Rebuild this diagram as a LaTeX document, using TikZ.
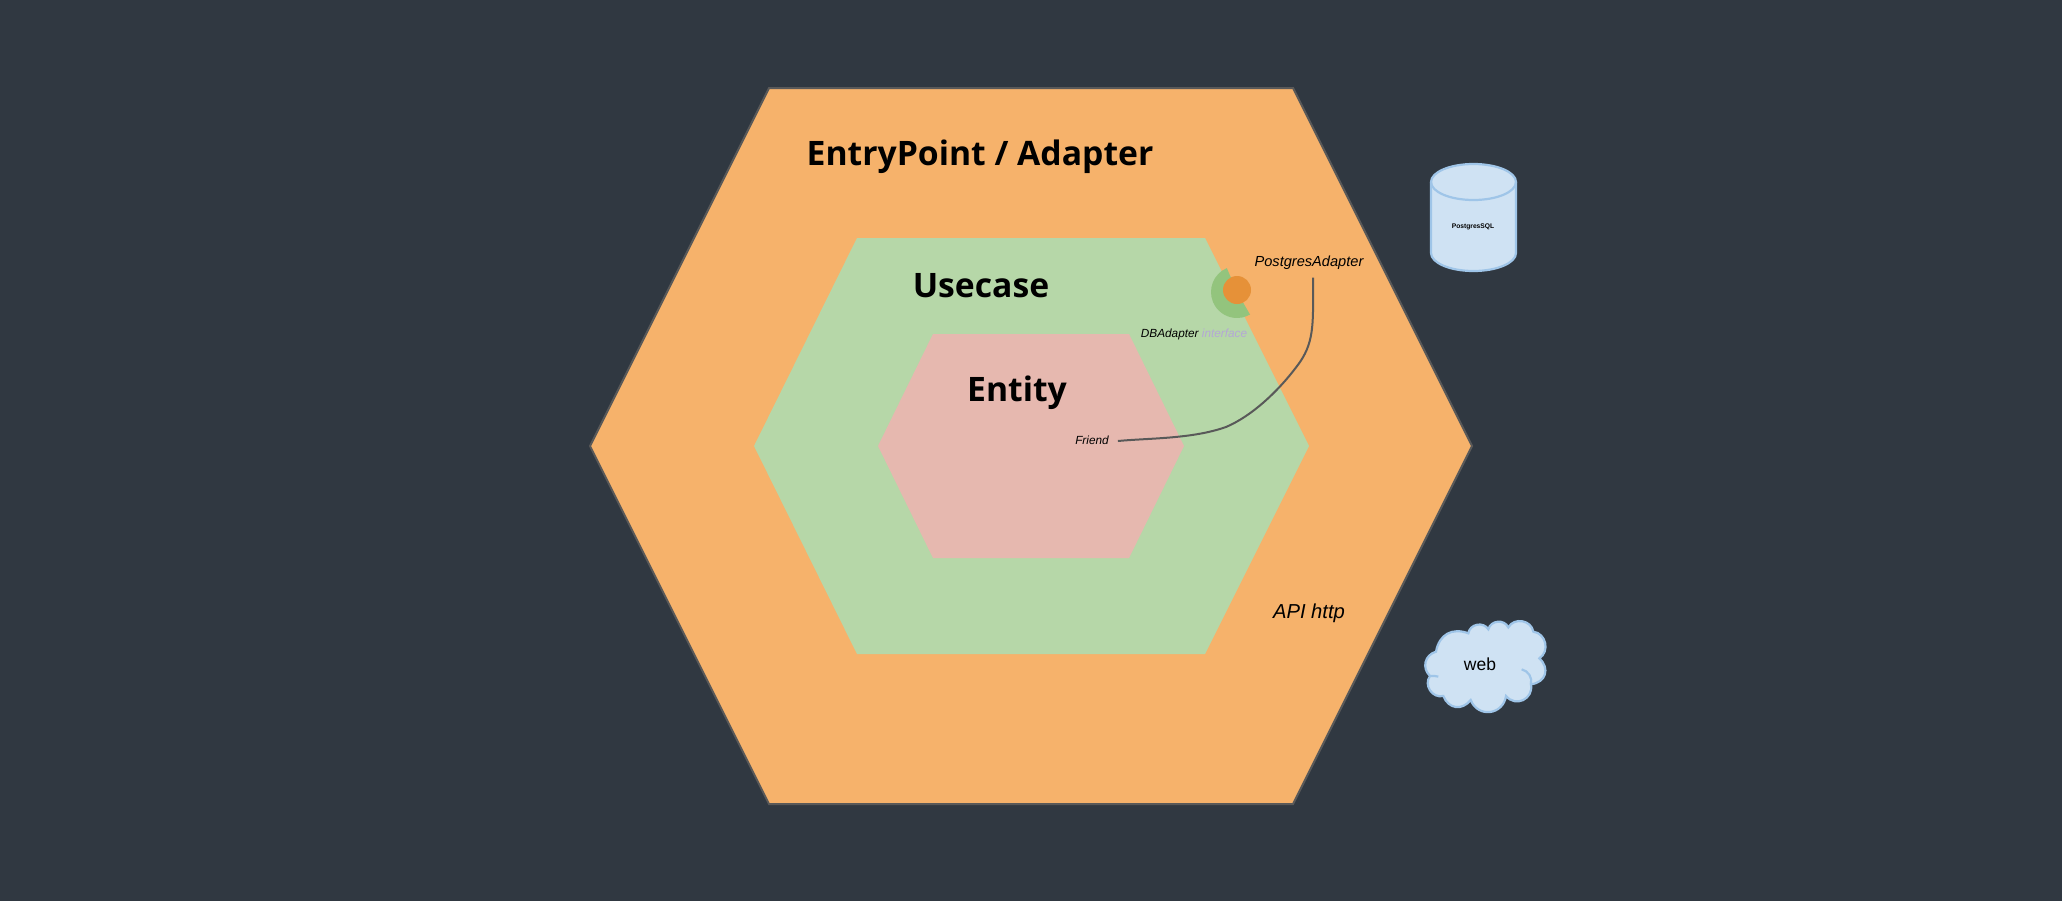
\documentclass[tikz,border=0pt]{standalone}
\usepackage{fontspec}
\setmainfont{Liberation Sans}
\newfontfamily\titlefont{Open Sans}
\usepackage{tikz}

\definecolor{slatebg}{HTML}{303841}
\definecolor{outerfill}{HTML}{F6B26B}
\definecolor{innerfill}{HTML}{B6D7A8}
\definecolor{corefill}{HTML}{E6B8AF}
\definecolor{storefill}{HTML}{CFE2F3}
\definecolor{storeline}{HTML}{9FC5E8}
\definecolor{glyphgreen}{HTML}{93C47D}
\definecolor{glyphorange}{HTML}{E69138}
\definecolor{faintviolet}{HTML}{B4A7D6}
\definecolor{wiregray}{HTML}{595959}

\tikzset{
  layertitle/.style={font=\titlefont\bfseries\fontsize{33.7}{40}\selectfont, text=black},
  smalllabel/.style={font=\itshape\fontsize{11.8}{14}\selectfont, text=black, inner sep=0pt},
  storeshape/.style={fill=storefill, draw=storeline, line width=2.2pt},
}

\begin{document}
\begin{tikzpicture}[x=1pt, y=-1pt]
    \useasboundingbox (0,0) rectangle (2062,900);
    \fill[slatebg] (-3,-3) rectangle (2065,903);
    % hexagons
    \filldraw[outerfill, draw=wiregray, line width=2pt] (590,446) -- (769,88) -- (1293,88) -- (1472,446) -- (1293,804) -- (769,804) -- cycle;
    \fill[innerfill] (754,446) -- (857,238) -- (1205,238) -- (1309,446) -- (1205,654) -- (857,654) -- cycle;
    \fill[corefill]  (878,446) -- (933,334) -- (1129,334) -- (1184,446) -- (1129,558) -- (933,558) -- cycle;
    % titles
    \node[layertitle] (entrypoint) at (980,157) {EntryPoint / Adapter};
    \node[layertitle] (usecase)    at (981,286) {Usecase};
    \node[layertitle] (entity)     at (1017,393) {Entity};
    % interface glyph
    \fill[glyphgreen] (1237,292) -- ++(247:26) arc[start angle=247, end angle=60, radius=26] -- cycle;
    \fill[glyphorange] (1237,290) circle (14);
    \node[smalllabel] (dbadapter) at (1194,334) {DBAdapter \textcolor{faintviolet}{interface}};
    \node[smalllabel, font=\itshape\fontsize{14.6}{18}\selectfont] (postgresadapter) at (1309,262.5) {PostgresAdapter};
    \node[smalllabel] (friend) at (1092,440) {Friend};
    \node[smalllabel, font=\itshape\fontsize{20.2}{24}\selectfont] (apihttp) at (1309,613.5) {API http};
    % wire
    \draw[wiregray, line width=2pt] (postgresadapter.south)+(4,8) coordinate (wirestart)
      (wirestart) .. controls (1313,320) and (1315,340) .. (1300,362)
      .. controls (1280,390) and (1252,416) .. (1226,427)
      .. controls (1192,439) and (1150,438) .. ([xshift=9pt,yshift=-1pt]friend.east);
    % database
    \filldraw[storeshape] (1431,182) -- (1431,253) arc[start angle=180, end angle=0, x radius=42.5, y radius=18] -- (1516,182) arc[start angle=0, end angle=-180, x radius=42.5, y radius=18] -- cycle;
    \draw[storeline, line width=2.2pt] (1431,182) arc[start angle=180, end angle=0, x radius=42.5, y radius=18];
    \node[font=\bfseries\fontsize{6.7}{9}\selectfont] (postgres) at (1473,227) {PostgresSQL};
    % cloud
    \begin{scope}[shift={(1400,590)}, x=0.3333pt, y=-0.3333pt]
      \filldraw[storeshape] (108,185) to[bend left=50, looseness=1.2] (205,130)
        to[bend left=70, looseness=1.2] (265,118) to[bend left=70, looseness=1.2] (325,112) to[bend left=70, looseness=1.2] (400,125)
        to[bend left=70, looseness=1.2] (418,205) to[bend left=65, looseness=1.4] (393,283)
        to[bend left=75, looseness=1.4] (318,318) to[bend left=75, looseness=1.4] (212,330) to[bend left=60, looseness=1.3] (130,318)
        to[bend left=70, looseness=1.2] (90,258) to[bend left=60, looseness=1.2] (108,185) -- cycle;
      \draw[storeline, line width=2.2pt] (365,238) to[bend left=45] (393,283);
      \draw[storeline, line width=2.2pt] (90,258) to[bend left=10] (115,260);
    \end{scope}
    \node[font=\fontsize{17.5}{21}\selectfont] (web) at (1480,664) {web};
  \end{tikzpicture}
\end{document}
